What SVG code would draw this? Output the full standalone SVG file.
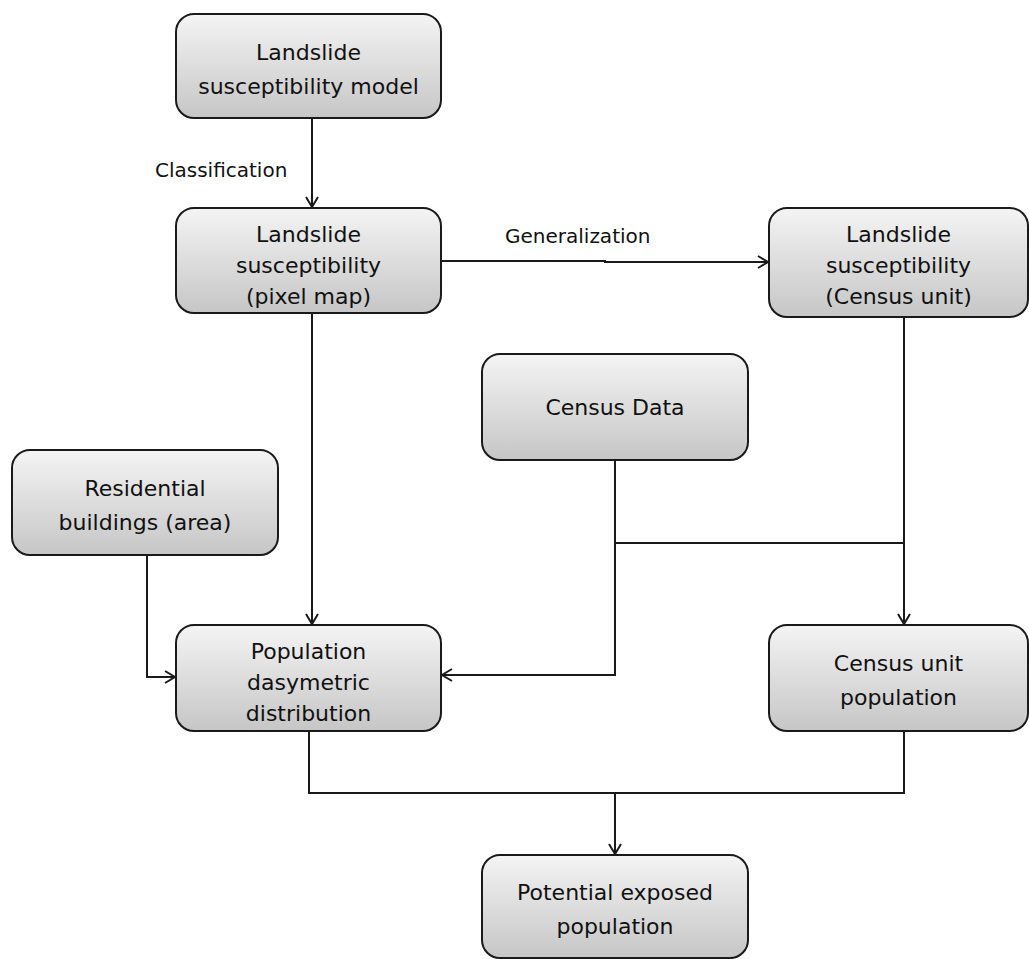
<svg xmlns="http://www.w3.org/2000/svg" width="1029" height="959" viewBox="0 0 1029 959">
<style>
.box{stroke:#1a1a1a;stroke-width:2;fill:url(#g)}
.t{font-family:"DejaVu Sans",Verdana,sans-serif;font-size:22px;fill:#111;text-anchor:middle}
.lbl{font-family:"DejaVu Sans",Verdana,sans-serif;font-size:20px;fill:#111}
.c{stroke:#1a1a1a;stroke-width:2;fill:none}
</style>
<defs>
<linearGradient id="g" x1="0" y1="0" x2="0" y2="1">
<stop offset="0" stop-color="#f4f4f4"/>
<stop offset="1" stop-color="#c6c6c6"/>
</linearGradient>
<marker id="a" markerWidth="14" markerHeight="14" refX="12" refY="7" orient="auto" markerUnits="userSpaceOnUse">
<path d="M2,1 L12,7 L2,13" fill="none" stroke="#1a1a1a" stroke-width="2"/>
</marker>
</defs>
<g id="connectors">
<path class="c" d="M312,118 V207" marker-end="url(#a)"/>
<path class="c" d="M441,261 H605 V262 H768" marker-end="url(#a)"/>
<path class="c" d="M312,313 V624" marker-end="url(#a)"/>
<path class="c" d="M904,317 V624" marker-end="url(#a)"/>
<path class="c" d="M615,543 H904"/>
<path class="c" d="M615,460 V675 H442" marker-end="url(#a)"/>
<path class="c" d="M147,555 V677 H175" marker-end="url(#a)"/>
<path class="c" d="M309,731 V793 H904 V731"/>
<path class="c" d="M615,793 V854" marker-end="url(#a)"/>
<text class="lbl" x="155" y="177">Classification</text>
<text class="lbl" x="505" y="243">Generalization</text>
</g>
<g id="n1"><rect class="box" x="176" y="14" width="265" height="104" rx="18"/>
<text class="t" x="308.5" y="60">Landslide</text><text class="t" x="308.5" y="94">susceptibility model</text></g>
<g id="n2"><rect class="box" x="176" y="208" width="265" height="105" rx="18"/>
<text class="t" x="308.5" y="242">Landslide</text><text class="t" x="308.5" y="273">susceptibility</text><text class="t" x="308.5" y="304">(pixel map)</text></g>
<g id="n3"><rect class="box" x="769" y="208" width="259" height="109" rx="18"/>
<text class="t" x="898.5" y="242">Landslide</text><text class="t" x="898.5" y="273">susceptibility</text><text class="t" x="898.5" y="304">(Census unit)</text></g>
<g id="n4"><rect class="box" x="482" y="354" width="266" height="106" rx="18"/>
<text class="t" x="615" y="415">Census Data</text></g>
<g id="n5"><rect class="box" x="12" y="450" width="266" height="105" rx="18"/>
<text class="t" x="145" y="496">Residential</text><text class="t" x="145" y="530">buildings (area)</text></g>
<g id="n6"><rect class="box" x="176" y="625" width="265" height="106" rx="18"/>
<text class="t" x="308.5" y="659">Population</text><text class="t" x="308.5" y="690">dasymetric</text><text class="t" x="308.5" y="721">distribution</text></g>
<g id="n7"><rect class="box" x="769" y="625" width="259" height="106" rx="18"/>
<text class="t" x="898.5" y="671">Census unit</text><text class="t" x="898.5" y="705">population</text></g>
<g id="n8"><rect class="box" x="482" y="855" width="266" height="103" rx="18"/>
<text class="t" x="615" y="900">Potential exposed</text><text class="t" x="615" y="934">population</text></g>
</svg>
